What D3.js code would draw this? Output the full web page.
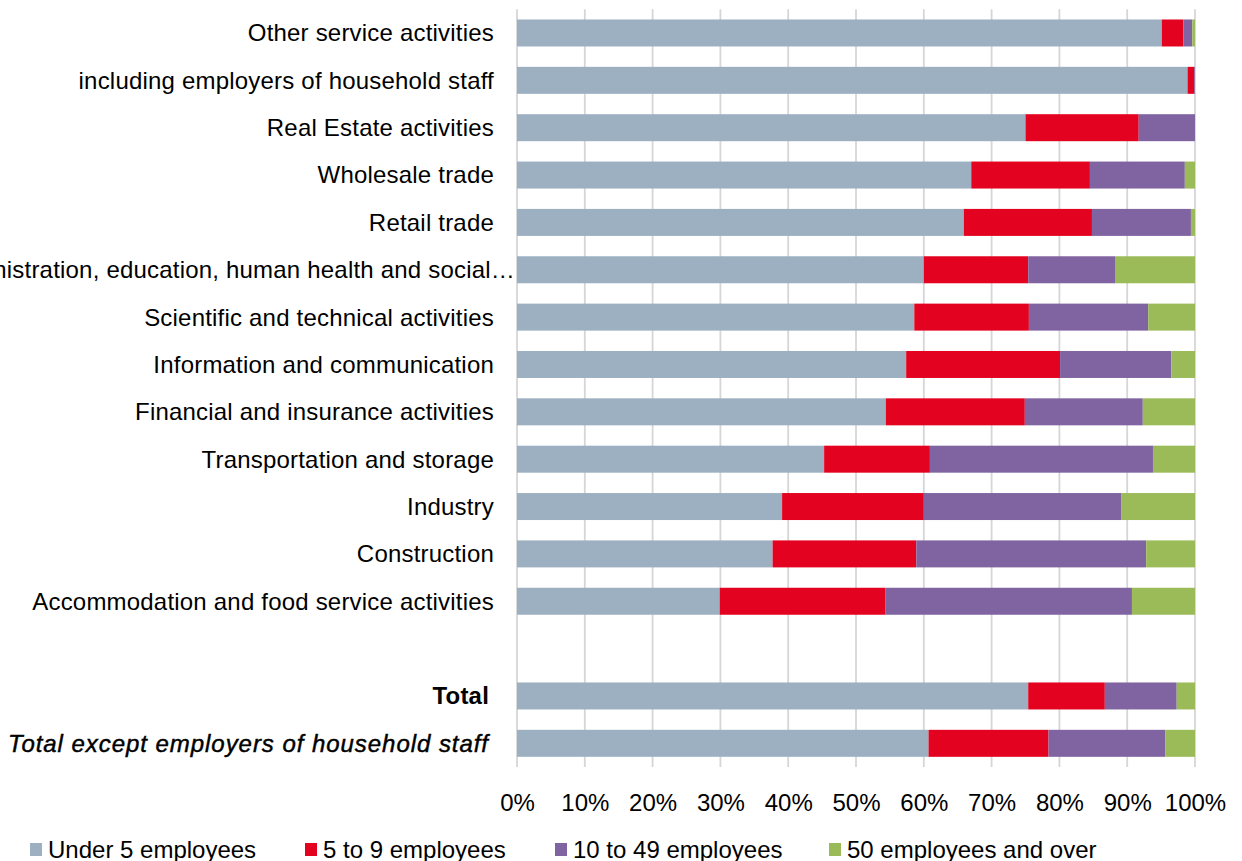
<!DOCTYPE html>
<html>
<head>
<meta charset="utf-8">
<script src="https://cdn.jsdelivr.net/npm/d3@7"></script>
<style>
  html, body { margin: 0; padding: 0; background: #fff; }
  svg { display: block; font-family: "Liberation Sans", Arial, Helvetica, sans-serif; }
</style>
</head>
<body>
<svg id="chart" width="1242" height="861"></svg>
<script>
// Sectors, top to bottom; the empty entry is a spacer row before the totals
const categories = [
  "Other service activities",
  "including employers of household staff",
  "Real Estate activities",
  "Wholesale trade",
  "Retail trade",
  "Public administration, education, human health and social…",
  "Scientific and technical activities",
  "Information and communication",
  "Financial and insurance activities",
  "Transportation and storage",
  "Industry",
  "Construction",
  "Accommodation and food service activities",
  "",
  "Total",
  "Total except employers of household staff"
];

// Share of enterprises by size class (%), one array per series, aligned with categories
const under5   = [95.1, 98.9, 75.0, 67.0, 65.9, 60.0, 58.6, 57.4, 54.4, 45.3, 39.1, 37.7, 29.9, null, 75.4, 60.7];
const from5to9 = [ 3.2,  1.0, 16.7, 17.5, 18.9, 15.4, 16.9, 22.7, 20.5, 15.6, 20.9, 21.2, 24.4, null, 11.3, 17.7];
const from10to49 = [1.3,  0.1,  8.3, 14.0, 14.6, 12.8, 17.6, 16.4, 17.4, 32.9, 29.1, 33.9, 36.4, null, 10.6, 17.2];
const over50   = [ 0.4,  0.0,  0.0,  1.5,  0.6, 11.8,  6.9,  3.5,  7.7,  6.2, 10.9,  7.2,  9.3, null,  2.7,  4.4];

const seriesNames = ["Under 5 employees", "5 to 9 employees", "10 to 49 employees", "50 employees and over"];
const seriesColors = ["#9CB0C1", "#E30321", "#8064A2", "#9BBB59"];
const tickValues = [0, 10, 20, 30, 40, 50, 60, 70, 80, 90, 100];

// Label styling for the two summary rows
const boldLabels = ["Total"];
const italicLabels = ["Total except employers of household staff"];

const rows = categories.map((c, i) => ({
  category: c,
  [seriesNames[0]]: under5[i],
  [seriesNames[1]]: from5to9[i],
  [seriesNames[2]]: from10to49[i],
  [seriesNames[3]]: over50[i]
}));

const svg = d3.select("#chart");
const margin = { left: 517, right: 47, top: 9.3, bottom: 94 };
const W = 1242, H = 861;
const fontSize = 24;

const x = d3.scaleLinear().domain([0, 100]).range([margin.left, W - margin.right]);
const y = d3.scaleBand().domain(d3.range(categories.length))
  .range([margin.top, H - margin.bottom]).paddingInner(0.43).paddingOuter(0.215);

// Vertical gridlines
svg.append("g").selectAll("line").data(tickValues).join("line")
  .attr("x1", d => x(d)).attr("x2", d => x(d))
  .attr("y1", margin.top).attr("y2", H - margin.bottom)
  .attr("stroke", "#D6D6D6").attr("stroke-width", 1.8);

// Stacked bars
const stack = d3.stack().keys(seriesNames).value((d, k) => d[k] || 0);
const layers = stack(rows);
svg.append("g").selectAll("g").data(layers).join("g")
  .attr("fill", (d, i) => seriesColors[i])
  .selectAll("rect")
  .data(d => d.map((v, i) => ({ v, i })).filter(o => rows[o.i].category !== "" && o.v[1] - o.v[0] > 0))
  .join("rect")
  .attr("x", o => x(o.v[0]))
  .attr("width", o => x(o.v[1]) - x(o.v[0]))
  .attr("y", o => y(o.i))
  .attr("height", y.bandwidth());

// Category labels
const isItalic = d => italicLabels.includes(d);
const isBold = d => boldLabels.includes(d);
svg.append("g").selectAll("text").data(categories).join("text")
  .attr("x", d => d.endsWith("…") ? margin.left - 2 : (isBold(d) || isItalic(d)) ? margin.left - 28 : margin.left - 23)
  .attr("y", (d, i) => y(i) + y.bandwidth() / 2)
  .attr("dy", "0.35em")
  .attr("text-anchor", "end")
  .attr("font-size", fontSize)
  .attr("letter-spacing", d => isItalic(d) ? 0.95 : 0.2)
  .attr("font-weight", d => isBold(d) ? "bold" : "normal")
  .attr("font-style", d => isItalic(d) ? "italic" : "normal")
  .attr("stroke", d => isItalic(d) ? "#000" : "none")
  .attr("stroke-width", d => isItalic(d) ? 0.45 : 0)
  .attr("fill", "#000")
  .text(d => d);

// Percentage axis
const xAxis = d3.axisBottom(x).tickValues(tickValues).tickFormat(d => d + "%").tickSize(0).tickPadding(0);
const axisG = svg.append("g").attr("transform", `translate(0, ${H - margin.bottom})`).call(xAxis);
axisG.select(".domain").remove();
axisG.selectAll("text")
  .attr("font-size", fontSize)
  .attr("font-family", "Liberation Sans, Arial, sans-serif")
  .attr("fill", "#000")
  .attr("y", 44)
  .attr("dy", 0);

// Legend
const legendX = [30, 305, 555, 829];
const legend = svg.append("g").selectAll("g").data(seriesNames).join("g")
  .attr("transform", (d, i) => `translate(${legendX[i]}, 843)`);
legend.append("rect").attr("width", 12).attr("height", 13).attr("fill", (d, i) => seriesColors[i]);
legend.append("text").attr("x", 18).attr("y", 14.5)
  .attr("font-size", fontSize).attr("fill", "#000").text(d => d);
</script>
</body>
</html>
